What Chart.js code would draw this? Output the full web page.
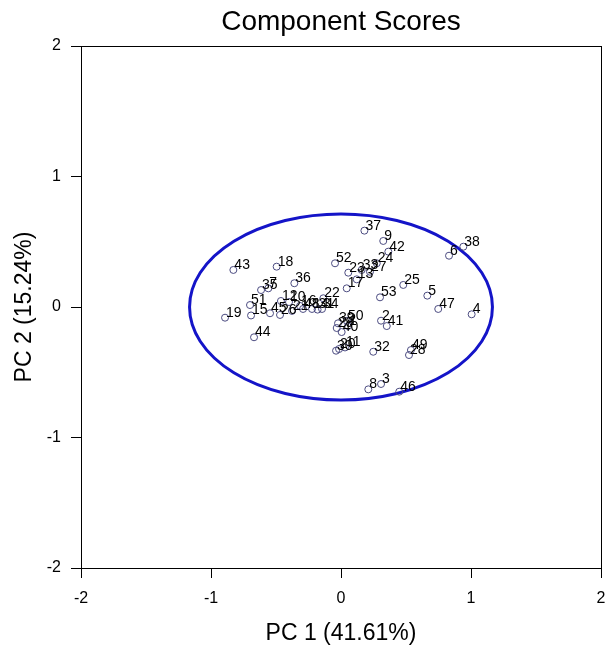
<!DOCTYPE html>
<html>
<head>
<meta charset="utf-8">
<script src="https://cdn.jsdelivr.net/npm/chart.js@4.4.1/dist/chart.umd.min.js"></script>
<style>
  html, body { margin: 0; padding: 0; background: #ffffff; }
  #wrap { width: 608px; height: 652px; }
</style>
</head>
<body>
<div id="wrap"><canvas id="c" width="608" height="652"></canvas></div>
<script>
// Sample identifiers and their scores on the first two principal components
const sampleIds = ['37','9','42','6','38','52','23','33','24','27','13','17','25','53','5','47','4','2','41','50',
  '29','40','1','39','30','20','11','32','49','28','8','3','46','43','18','35','7','36','51','19',
  '15','45','26','44','22','34','48','14','12','10','16','21','31'];
const pc1Scores = [0.18,0.325,0.364,0.831,0.941,-0.046,0.056,0.159,0.275,0.223,0.121,0.044,0.479,0.30,0.664,0.748,1.005,0.308,0.352,0.046,
  -0.033,0.005,0.054,-0.023,-0.038,-0.015,0.031,0.248,0.538,0.523,0.21,0.308,0.448,-0.828,-0.495,-0.615,-0.559,-0.359,-0.70,-0.892,
  -0.692,-0.546,-0.469,-0.669,-0.136,-0.146,-0.292,-0.223,-0.462,-0.40,-0.315,-0.377,-0.18];
const pc2Scores = [0.585,0.506,0.424,0.393,0.462,0.335,0.263,0.284,0.335,0.27,0.212,0.143,0.169,0.074,0.087,-0.015,-0.056,-0.105,-0.146,-0.107,
  -0.161,-0.192,-0.146,-0.125,-0.335,-0.322,-0.31,-0.343,-0.33,-0.368,-0.631,-0.59,-0.649,0.284,0.309,0.13,0.143,0.182,0.015,-0.082,
  -0.065,-0.048,-0.061,-0.232,0.067,-0.015,-0.015,-0.015,0.046,0.038,0.008,-0.03,-0.02];

// Axis ticks and titles
const axisTicks = [-2, -1, 0, 1, 2];
const xTitle = 'PC 1 (41.61%)';
const yTitle = 'PC 2 (15.24%)';
const chartTitle = 'Component Scores';

// Confidence ellipse: centre and semi-axes in score units
const ellipseCenter = [0, 0];
const ellipseRadii = [1.165, 0.713];

const points = pc1Scores.map((x, i) => ({ x: x, y: pc2Scores[i], id: sampleIds[i] }));

const FONT = 'Arial, "Liberation Sans", sans-serif';

const framePlugin = {
  id: 'frameAndExtras',
  beforeDatasetsDraw(chart) {
    const { ctx, scales: { x, y } } = chart;
    ctx.save();
    // confidence ellipse
    const cx = x.getPixelForValue(ellipseCenter[0]);
    const cy = y.getPixelForValue(ellipseCenter[1]);
    const rx = Math.abs(x.getPixelForValue(ellipseCenter[0] + ellipseRadii[0]) - cx);
    const ry = Math.abs(y.getPixelForValue(ellipseCenter[1] + ellipseRadii[1]) - cy);
    ctx.beginPath();
    ctx.ellipse(cx, cy, rx, ry, 0, 0, Math.PI * 2);
    ctx.strokeStyle = '#1414c8';
    ctx.lineWidth = 3;
    ctx.stroke();
    ctx.restore();
  },
  afterDatasetsDraw(chart) {
    const { ctx, chartArea: a } = chart;
    const meta = chart.getDatasetMeta(0);
    ctx.save();
    // point labels
    ctx.fillStyle = '#000000';
    ctx.font = '14px ' + FONT;
    ctx.textAlign = 'left';
    ctx.textBaseline = 'middle';
    meta.data.forEach((el, i) => {
      ctx.fillText(points[i].id, el.x + 1, el.y - 5);
    });
    // frame
    ctx.strokeStyle = '#000000';
    ctx.lineWidth = 1;
    ctx.strokeRect(Math.round(a.left) + 0.5, Math.round(a.top) + 0.5,
      Math.round(a.right - a.left), Math.round(a.bottom - a.top));
    // title
    ctx.font = '28px ' + FONT;
    ctx.textAlign = 'center';
    ctx.textBaseline = 'middle';
    ctx.fillText(chartTitle, (a.left + a.right) / 2, a.top - 24);
    ctx.restore();
  }
};

new Chart(document.getElementById('c'), {
  type: 'scatter',
  data: {
    datasets: [{
      data: points,
      backgroundColor: 'rgba(255,255,255,0)',
      borderColor: '#4b4b80',
      borderWidth: 1,
      pointRadius: 3.5,
      pointHoverRadius: 3.5
    }]
  },
  options: {
    responsive: false,
    animation: false,
    events: [],
    layout: { padding: { left: 0, right: 7, top: 46, bottom: 0 } },
    plugins: { legend: { display: false }, tooltip: { enabled: false }, title: { display: false } },
    scales: {
      x: {
        type: 'linear', min: -2, max: 2,
        afterFit(s) { s.height = 84; s.paddingLeft = 0; s.paddingRight = 0; },
        afterBuildTicks(s) { s.ticks = axisTicks.map(v => ({ value: v })); },
        border: { display: false },
        grid: { drawOnChartArea: false, drawTicks: true, tickLength: 10, color: '#000000', lineWidth: 1 },
        ticks: { color: '#000000', font: { size: 16, family: FONT }, padding: 11, maxRotation: 0 },
        title: { display: true, text: xTitle, color: '#000000', font: { size: 23, family: FONT }, padding: { top: 0, bottom: 5 } }
      },
      y: {
        type: 'linear', min: -2, max: 2,
        afterFit(s) { s.width = 81; s.paddingTop = 0; s.paddingBottom = 0; },
        afterBuildTicks(s) { s.ticks = axisTicks.map(v => ({ value: v })); },
        border: { display: false },
        grid: { drawOnChartArea: false, drawTicks: true, tickLength: 10, color: '#000000', lineWidth: 1 },
        ticks: { color: '#000000', font: { size: 16, family: FONT }, padding: 10 },
        title: { display: true, text: yTitle, color: '#000000', font: { size: 23, family: FONT }, padding: { top: 11, bottom: 0 } }
      }
    }
  },
  plugins: [framePlugin]
});
</script>
</body>
</html>
